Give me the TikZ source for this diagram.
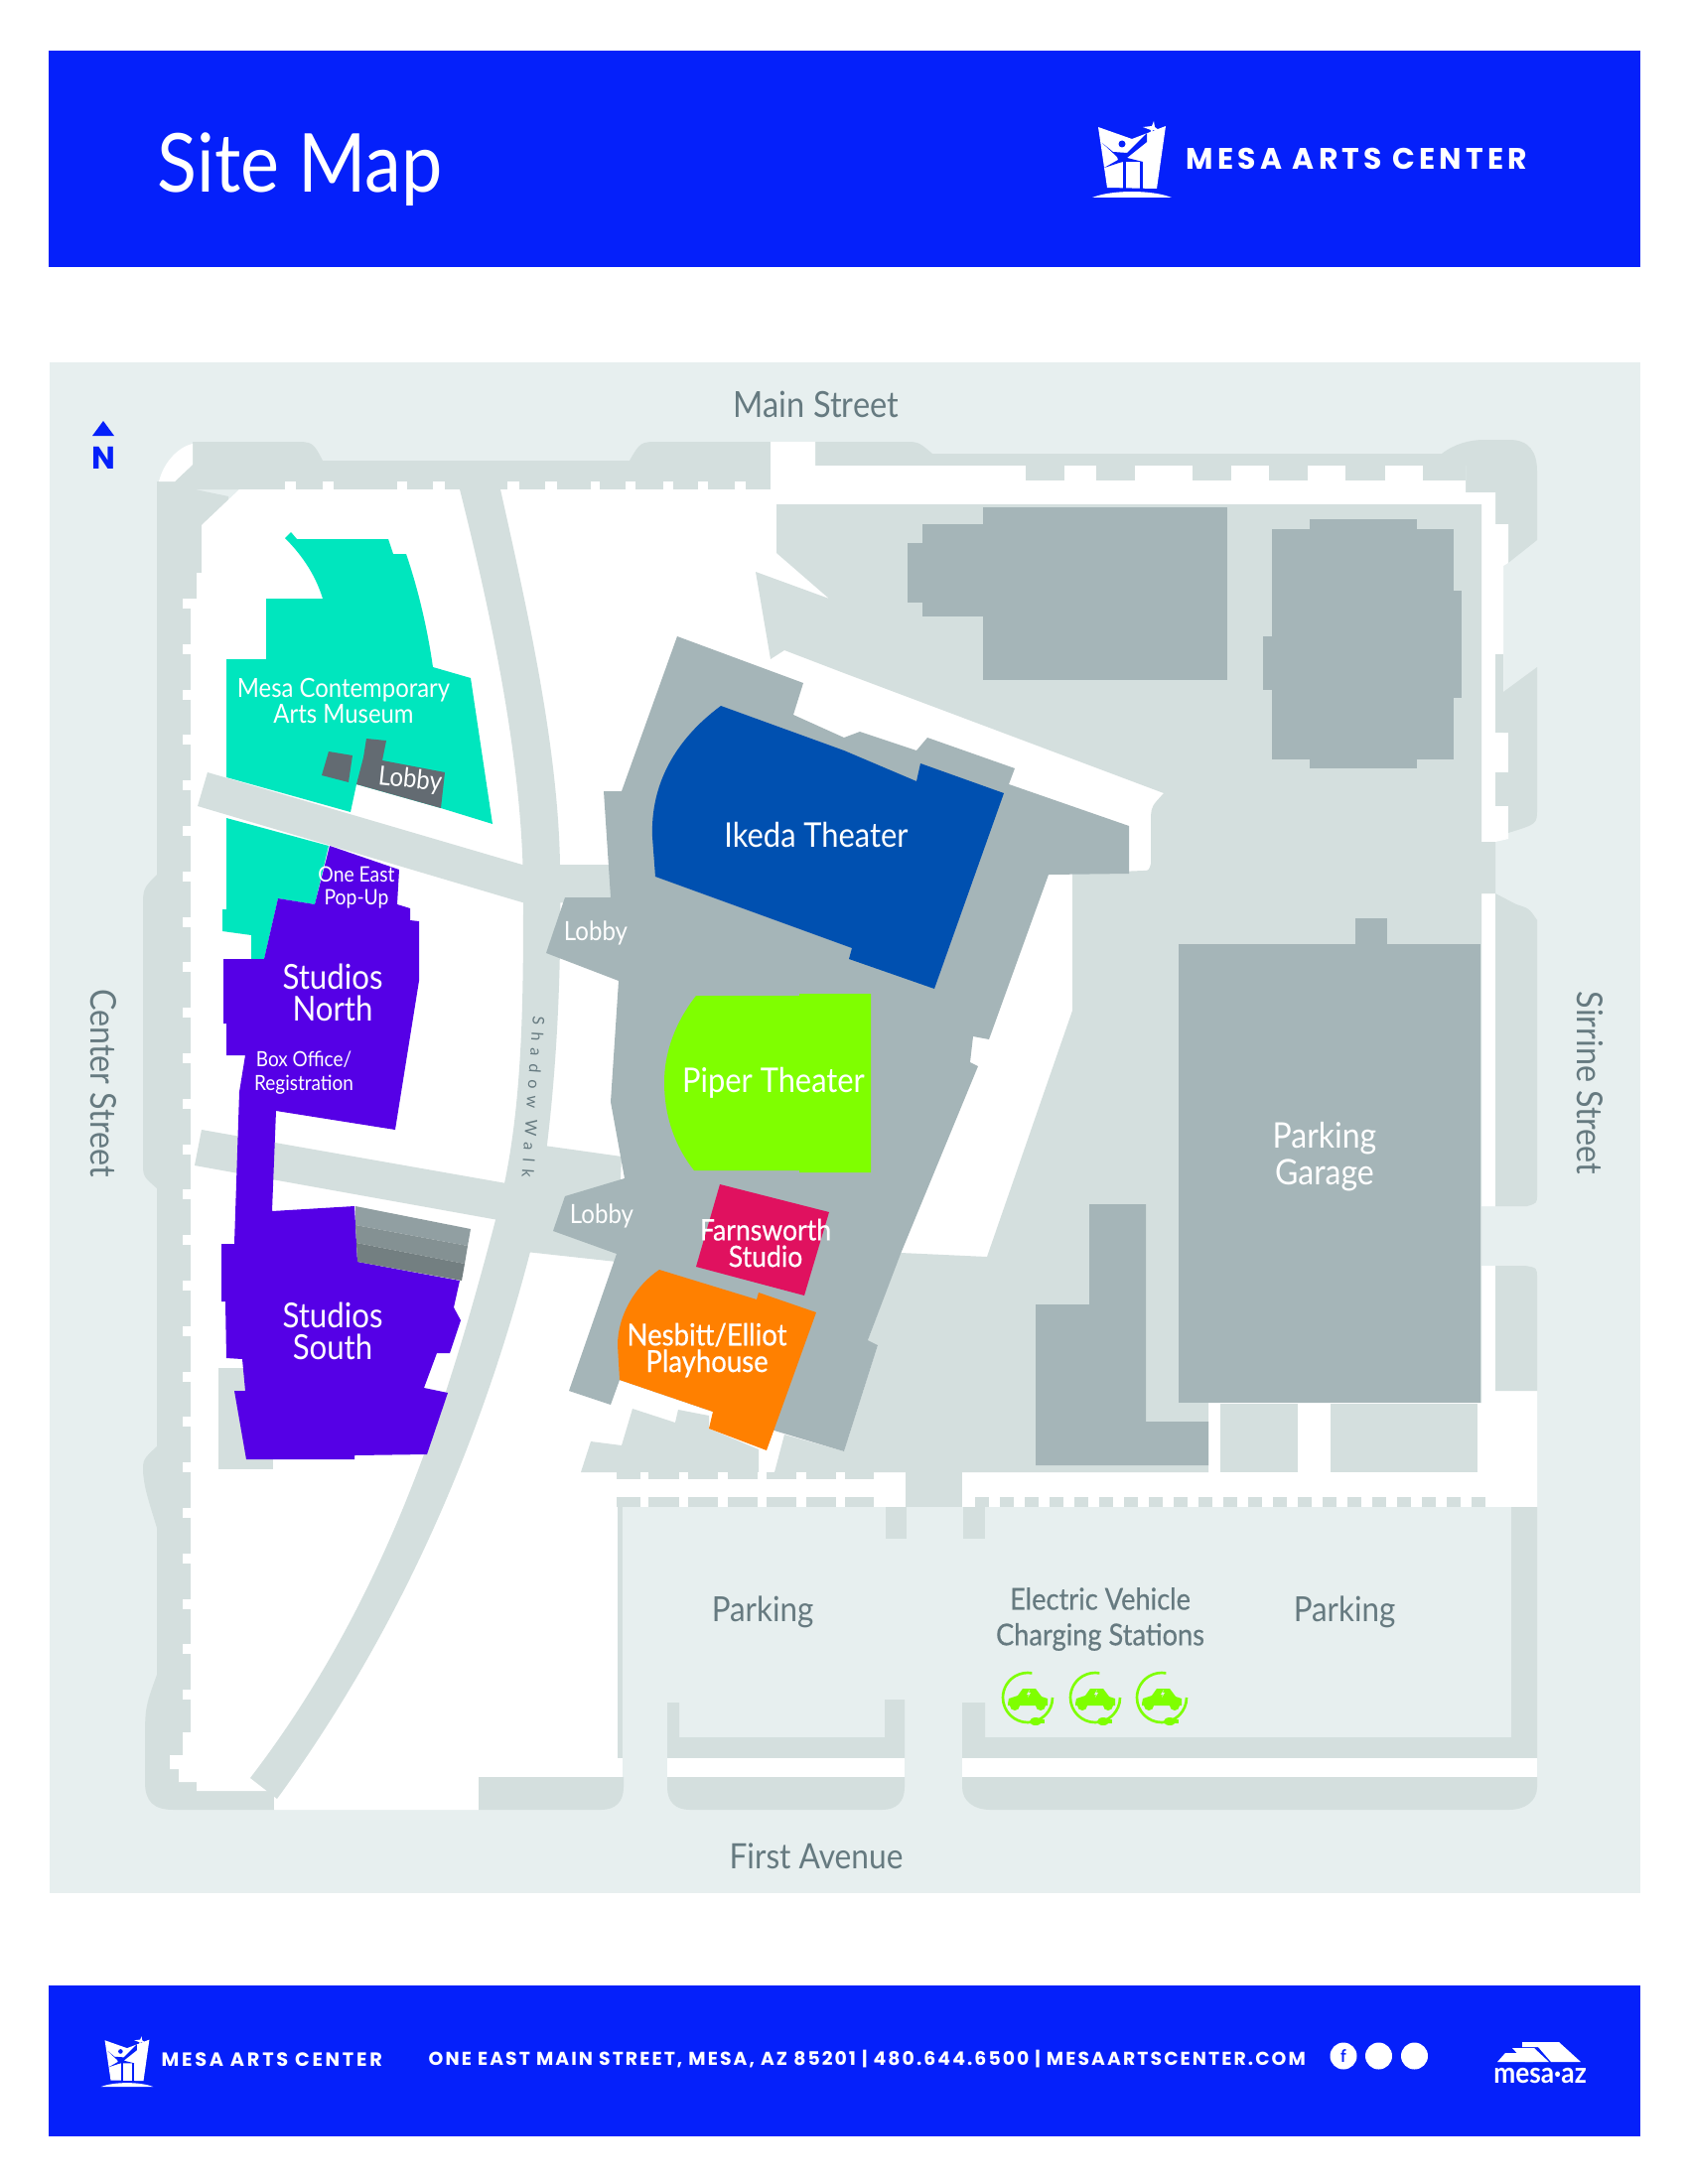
\documentclass[tikz,border=0pt]{standalone}
\usepackage{fontspec}
\setmainfont[FakeStretch=0.9]{Lato}
\newfontfamily\mediumfont[FakeStretch=0.9,FakeBold=0.5]{Lato}
\newfontfamily\logofont[LetterSpace=14]{Poppins}
\newfontfamily\footfont[LetterSpace=11]{Poppins}
\newfontfamily\walkfont[LetterSpace=45]{Lato}
\definecolor{bannerblue}{HTML}{0520FA}
\definecolor{panelgrey}{HTML}{E7EFEF}
\definecolor{walkgrey}{HTML}{D4DFDE}
\definecolor{buildgrey}{HTML}{A5B5B8}
\definecolor{textgrey}{HTML}{667A80}
\definecolor{ikedablue}{HTML}{0050B0}
\definecolor{museumgreen}{HTML}{00E6BE}
\definecolor{studiopurple}{HTML}{5500E6}
\definecolor{pipergreen}{HTML}{7FFF00}
\definecolor{farnsred}{HTML}{E0115F}
\definecolor{nesbittorange}{HTML}{FF8000}
\definecolor{lobbydark}{HTML}{636B72}
\begin{document}
\begin{tikzpicture}[x=0.01cm,y=-0.01cm,
	walk/.style={fill=walkgrey},
	building/.style={fill=buildgrey},
	toplabel/.style={white,align=center,inner sep=0pt},
	streetlabel/.style={textgrey,align=center,inner sep=0pt},
	arcslogo/.pic={
		\fill [white] (-34,-33) -- (0,-21) -- (34,-34) -- (25,29) -- (-25,28) -- cycle;
		\fill [bannerblue] (-9,2) -- (-6,2) -- (-6,29) -- (-9,29) -- cycle;
		\fill [bannerblue] (8,2) -- (11,2) -- (11,29) -- (8,29) -- cycle;
		\fill [bannerblue] (-10,-16) circle (3.5);
		\fill [bannerblue] (-30,-17) -- (-19,-8) -- (-5,-7) -- (15,-27) -- (15,-18) -- (-5,-2) -- (11,2) -- (-9,2) -- (-13,3) -- (-28,8) -- (-14,0) -- (-15,-3) -- cycle;
		\fill [white] (22,-39) -- (23,-33) -- (27,-30) -- (21,-30) -- (18,-23) -- (19,-30) -- (11,-33) -- (20,-34) -- cycle;
		\fill [white] (-40,38) .. controls (-20,30) and (20,30) .. (40,38) -- cycle;
	},
	evcharger/.pic={
		\draw [pipergreen,line width=0.75pt] (25,0) arc (0:280:25);
		\fill [pipergreen] (-20,6) -- (-19,1) -- (-10,-2) -- (-5,-9) -- (8,-9) -- (14,-1) -- (20,1) -- (20,8) -- (-20,8) -- cycle;
		\fill [pipergreen] (-13,8) circle (5);
		\fill [pipergreen] (13,8) circle (5);
		\fill [panelgrey] (2,-8) -- (-1,-3) -- (1,-3) -- (0,0) -- (3,-5) -- (1,-5) -- cycle;
		\fill [pipergreen] (8,24) ellipse (6 and 4);
		\fill [pipergreen] (8,22) rectangle (17,26);
	}]
	\useasboundingbox (0,0) rectangle (1700,2200);
	\fill [white] (0,0) rectangle (1700,2200);
	\fill [bannerblue] (49,51) rectangle (1652,269);
	\fill [bannerblue] (49,2000) rectangle (1652,2152);
	\fill [panelgrey] (50,365) rectangle (1652,1907);

	\node (sitemap) [toplabel,anchor=base west,font=\fontsize{23.3}{25}\selectfont] at (158,193) {Site Map};
	\pic at (1140,161) {arcslogo};
	\node (headername) [toplabel,anchor=west,font=\logofont\bfseries\fontsize{8.5}{10}\selectfont] at (1194,160) {MESA ARTS CENTER};
	\pic at (128,2077) [scale=0.66] {arcslogo};
	\node (footername) [toplabel,anchor=west,font=\logofont\bfseries\fontsize{5.5}{7}\selectfont] at (162,2075) {MESA ARTS CENTER};
	\node (address) [toplabel,anchor=west,font=\footfont\bfseries\fontsize{5.35}{7}\selectfont] at (431,2074) {ONE EAST MAIN STREET, MESA, AZ 85201 | 480.644.6500 | MESAARTSCENTER.COM};
	\fill [white] (1353,2071) circle (13.5);
	\fill [white] (1388.5,2071) circle (13.5);
	\fill [white] (1424.5,2071) circle (13.5);
	\node (facebook) [bannerblue,inner sep=0pt,font=\bfseries\fontsize{5}{6}\selectfont] at (1353,2071) {f};
	\fill [white] (1533,2057) -- (1570,2057) -- (1592,2077) -- (1562,2077) -- (1549,2062) -- (1533,2062) -- cycle;
	\fill [white] (1523,2063) -- (1545,2063) -- (1560,2077) -- (1536,2077) -- cycle;
	\fill [white] (1516,2068) -- (1536,2068) -- (1544,2077) -- (1508,2077) -- cycle;
	\node (mesaaz) [toplabel,font=\bfseries\fontsize{8.3}{9}\selectfont] at (1551,2091) {mesa·az};

	\fill [bannerblue] (93,439) -- (104,424) -- (115,439) -- cycle;
	\node (northmark) [bannerblue,inner sep=0pt,font=\logofont\bfseries\fontsize{9}{10}\selectfont] at (104,461) {N};

	\fill [walk] (158,485) -- (158,881) .. controls (144,895) .. (144,915) -- (144,1170) .. controls (144,1185) .. (158,1197) -- (158,1457) .. controls (144,1470) .. (144,1483) .. controls (146,1500) .. (158,1539) -- (158,1687) .. controls (146,1720) .. (146,1758) -- (146,1795) .. controls (146,1815) and (155,1823) .. (175,1823) -- (276,1823) -- (276,1790) -- (230,600) -- (230,500) -- cycle;
	\fill [walk] (158,485) -- (176,485) -- (194,468) -- (194,445) -- (295,445) .. controls (315,445) .. (325,464) -- (634,464) .. controls (645,445) .. (665,445) -- (776,445) -- (776,493) -- (158,493) -- cycle;
	\fill [white] (160,485) .. controls (165,465) and (180,450) .. (194,447) -- (194,468) -- (176,485) -- cycle;
	\fill [walk] (821,445) -- (910,445) .. controls (925,445) .. (939,457) -- (1452,457) .. controls (1465,447) and (1480,443) .. (1495,443) -- (1520,443) .. controls (1540,443) and (1548,455) .. (1548,475) -- (1548,544) -- (1519,567) -- (1476,567) -- (1476,469) -- (821,469) -- cycle;

	\fill [white] (241,493) -- (776,493) -- (776,445) -- (821,445) -- (821,469) -- (1476,469) -- (1476,496) -- (1506,496) -- (1506,528) -- (1519,528) -- (1519,567) -- (1514,570) -- (1514,738) -- (1519,738) -- (1519,845) -- (1506,848) -- (1492,848) -- (1492,900) -- (1506,900) -- (1506,1215) -- (1490,1215) -- (1490,1275) -- (1506,1275) -- (1506,1401) -- (1548,1401) -- (1548,1518) -- (622,1518) -- (622,1771) -- (628,1771) -- (628,1790) -- (482,1790) -- (482,1823) -- (276,1823) -- (276,1804) -- (198,1804) -- (198,1795) -- (180,1795) -- (180,1782) -- (171,1782) -- (171,1768) -- (184,1768) -- (184,1745) -- (192,1745) -- (192,603) -- (198,603) -- (198,577) -- (203,577) -- (203,529) -- cycle;
	\foreach \k in {0,...,24}
		\fill [white] (184,603+45.8*\k) rectangle (192,613+45.8*\k);
	\foreach \a/\b in {287/298,325/336,400/410,436/448,511/523,549/561,595/604,630/640,668/678,703/713,740/751}
		\fill [white] (\a,485) rectangle (\b,493);
	\foreach \a/\b in {1033/1072,1104/1143,1201/1240,1278/1317,1355/1395,1433/1476}
		\fill [walk] (\a,469) rectangle (\b,484);

	\fill [walk] (1506,659) rectangle (1514,738);
	\fill [walk] (1514,697) -- (1548,672) -- (1548,815) .. controls (1548,830) .. (1519,839) -- (1519,738) -- (1514,738) -- cycle;
	\fill [walk] (1506,778) rectangle (1519,812);
	\fill [walk] (1506,900) -- (1527,911) .. controls (1540,915) .. (1548,927) -- (1548,1203) .. controls (1548,1212) .. (1538,1215) -- (1506,1215) -- cycle;
	\fill [walk] (1506,1275) -- (1536,1275) .. controls (1548,1277) .. (1548,1288) -- (1548,1401) -- (1506,1401) -- cycle;

	\fill [panelgrey] (627,1518) rectangle (1522,1750);
	\fill [walk] (622,1518) rectangle (627,1771);
	\fill [panelgrey] (627,1750) rectangle (672,1823);
	\fill [panelgrey] (911,1750) rectangle (969,1823);
	\fill [walk] (672,1715) -- (684,1715) -- (684,1750) -- (891,1750) -- (891,1712) -- (911,1712) -- (911,1771) -- (672,1771) -- cycle;
	\fill [walk] (969,1715) -- (992,1715) -- (992,1750) -- (1522,1750) -- (1522,1518) -- (1548,1518) -- (1548,1771) -- (969,1771) -- cycle;
	\fill [walk] (892,1518) rectangle (913,1550);
	\fill [walk] (970,1518) rectangle (992,1550);
	\fill [white] (672,1771) rectangle (911,1790);
	\fill [white] (969,1771) rectangle (1548,1790);
	\fill [walk] (482,1790) -- (628,1790) -- (628,1800) .. controls (628,1815) and (620,1823) .. (605,1823) -- (482,1823) -- cycle;
	\fill [walk] (672,1790) -- (911,1790) -- (911,1800) .. controls (911,1815) and (903,1823) .. (888,1823) -- (695,1823) .. controls (680,1823) and (672,1815) .. (672,1800) -- cycle;
	\fill [walk] (969,1790) -- (1548,1790) -- (1548,1800) .. controls (1548,1815) and (1535,1823) .. (1520,1823) -- (997,1823) .. controls (982,1823) and (969,1815) .. (969,1800) -- cycle;

	\fill [walk] (782,508) -- (1492,508) -- (1492,848) -- (1506,848) -- (1506,900) -- (1492,900) -- (1492,1413) -- (1217,1413) -- (1217,1483) -- (780,1483) -- (790,1445) -- (850,1462) -- (884,1355) -- (874,1350) -- (907,1262) -- (994,1266) -- (1080,1018) -- (1080,880) -- (1151,877) .. controls (1157,877) .. (1159,870) -- (1159,822) .. controls (1160,812) .. (1172,799) -- (850,678) -- (790,655) -- (776,664) -- (761,576) -- (835,603) -- (782,557) -- cycle;
	\fill [walk] (637,1419) -- (680,1433) -- (683,1420) -- (714,1426) -- (714,1439) -- (764,1460) -- (764,1483) -- (585,1483) -- (595,1452) -- (626,1456) -- cycle;
	\fill [walk] (1229,1414) rectangle (1307,1483);
	\fill [walk] (1340,1414) rectangle (1488,1483);
	\fill [walk] (912,1483) rectangle (969,1518);
	\fill [walk] (621,1483) rectangle (880,1490);
	\fill [walk] (621,1508) rectangle (880,1518);
	\foreach \a/\b in {645/653,684/693,723/733,763/772,802/812,842/851} {
		\fill [white] (\a,1483) rectangle (\b,1490);
		\fill [white] (\a,1508) rectangle (\b,1518);
	}
	\foreach \k in {0,...,20}
		\fill [walk] (982+25*\k,1508) rectangle (996+25*\k,1518);

	\fill [walk] (463,493) .. controls (500,640) and (527,780) .. (527,900) .. controls (527,1010) and (527,1130) .. (499,1229) .. controls (452,1409) and (390,1611) .. (252,1791) -- (279,1812) .. controls (410,1632) and (487,1441) .. (534,1261) .. controls (560,1130) and (566,990) .. (564,871) .. controls (562,750) and (530,610) .. (504,493) -- cycle;
	\fill [walk] (209,778) -- (526,871) -- (615,871) -- (615,910) -- (526,909) -- (199,812) -- cycle;
	\fill [walk] (203,1138) -- (510,1192) -- (502,1229) -- (196,1174) -- cycle;
	\fill [walk] (548,1154) -- (626,1165) -- (621,1271) -- (530,1261) -- cycle;
	\fill [walk] (220,1378) rectangle (275,1480);

	\fill [building] (914,547) rectangle (929,607);
	\fill [building] (929,528) rectangle (990,621);
	\fill [building] (990,511) rectangle (1236,685);
	\fill [building] (1281,533) rectangle (1464,765);
	\fill [building] (1319,523) rectangle (1427,774);
	\fill [building] (1272,641) rectangle (1281,695);
	\fill [building] (1464,595) rectangle (1472,703);
	\fill [building] (1187,951) rectangle (1491,1413);
	\fill [building] (1365,925) rectangle (1397,951);
	\fill [building] (1097,1213) -- (1154,1213) -- (1154,1432) -- (1217,1432) -- (1217,1476) -- (1043,1476) -- (1043,1314) -- (1097,1314) -- cycle;
	\fill [building] (682,641) -- (809,688) -- (799,720) -- (850,743) -- (866,737) -- (923,756) -- (934,743) -- (1022,774) -- (1016,790) -- (1137,832) -- (1137,880) -- (1056,881) -- (996,1047) -- (980,1044) -- (977,1070) -- (985,1074) -- (907,1263) -- (874,1350) -- (884,1355) -- (850,1462) -- (783,1442) -- (718,1422) -- (624,1390) -- (615,1415) -- (573,1401) -- (621,1263) -- (557,1240) -- (569,1205) -- (629,1187) -- (615,1110) -- (623,988) -- (550,960) -- (569,904) -- (615,904) -- (608,797) -- (626,797) -- cycle;

	\fill [ikedablue] (726,711) -- (850,756) -- (923,787) -- (927,769) -- (1011,799) -- (941,996) -- (855,966) -- (858,955) -- (660,883) -- (657,843) .. controls (655,790) and (680,745) .. (726,711) -- cycle;
	\fill [pipergreen] (701,1003) .. controls (680,1030) and (669,1060) .. (669,1090) .. controls (669,1125) and (680,1155) .. (699,1179) -- (805,1179) -- (805,1181) -- (877,1181) -- (877,1001) -- (805,1001) -- (805,1003) -- cycle;
	\fill [farnsred] (725,1193) -- (835,1221) -- (810,1305) -- (701,1276) -- cycle;
	\fill [nesbittorange] (664,1279) -- (762,1309) -- (764,1302) -- (822,1322) -- (772,1461) -- (714,1439) -- (718,1422) -- (624,1390) -- (622,1355) .. controls (622,1325) and (640,1295) .. (664,1279) -- cycle;

	\fill [museumgreen] (287,542) -- (293,536) -- (299,543) -- (391,543) -- (396,558) -- (409,558) .. controls (420,590) and (430,630) .. (436,672) -- (474,683) -- (496,830) -- (444,814) -- (359,790) -- (353,818) -- (228,783) -- (228,664) -- (268,664) -- (268,603) -- (325,603) .. controls (318,580) and (305,560) .. (287,542) -- cycle;
	\fill [museumgreen] (228,824) -- (331,852) -- (317,911) -- (280,905) -- (266,966) -- (253,966) -- (253,942) -- (224,938) -- (224,916) -- (228,916) -- cycle;
	\fill [lobbydark] (369,744) -- (389,746) -- (385,766) -- (448,778) -- (444,814) -- (359,790) -- (366,763) -- cycle;
	\fill [lobbydark] (331,757) -- (355,761) -- (351,788) -- (324,781) -- cycle;

	\fill [studiopurple] (332,852) -- (402,876) -- (400,911) -- (413,915) -- (413,927) -- (422,928) -- (422,988) -- (398,1138) -- (278,1119) -- (274,1220) -- (357,1215) -- (360,1271) -- (463,1290) -- (457,1317) -- (464,1330) -- (453,1363) -- (440,1363) -- (427,1398) -- (451,1403) -- (430,1465) -- (357,1466) -- (357,1470) -- (248,1470) -- (236,1401) -- (247,1401) -- (244,1369) -- (228,1368) -- (227,1311) -- (223,1311) -- (223,1253) -- (236,1253) -- (241,1100) -- (247,1063) -- (228,1063) -- (228,1031) -- (225,1031) -- (225,966) -- (266,966) -- (280,905) -- (317,911) -- cycle;
	\fill [fill=buildgrey!88!black] (358,1215) -- (474,1238) -- (471,1255) -- (358,1234) -- cycle;
	\fill [fill=buildgrey!80!black] (358,1234) -- (471,1255) -- (468,1273) -- (359,1252) -- cycle;
	\fill [fill=buildgrey!70!black] (359,1252) -- (468,1273) -- (465,1290) -- (360,1271) -- cycle;

	\node (mainstreet) [streetlabel,font=\fontsize{10.3}{11}\selectfont] at (822,407) {Main Street};
	\node (firstavenue) [streetlabel,font=\fontsize{10}{11}\selectfont] at (822,1870) {First Avenue};
	\node (centerstreet) [streetlabel,rotate=-90,font=\fontsize{10.2}{11}\selectfont] at (104,1091) {Center Street};
	\node (sirrinestreet) [streetlabel,rotate=-90,font=\fontsize{10.2}{11}\selectfont] at (1601,1091) {Sirrine Street};
	\node (shadowwalk) [streetlabel,rotate=-94,font=\walkfont\fontsize{4.6}{6}\selectfont] at (537,1105) {Shadow Walk};

	\node (museum) [toplabel,font=\fontsize{7.55}{7.4}\selectfont] at (346,706) {Mesa Contemporary\\Arts Museum};
	\node (museumlobby) [toplabel,rotate=-6,font=\fontsize{7.6}{9}\selectfont] at (413,786) {Lobby};
	\node (popup) [toplabel,font=\fontsize{6.1}{6.5}\selectfont] at (359,894) {One East\\Pop-Up};
	\node (studiosnorth) [toplabel,font=\fontsize{9.85}{9.2}\selectfont] at (335,1000) {Studios\\North};
	\node (boxoffice) [toplabel,font=\fontsize{6}{6.8}\selectfont] at (306,1081) {Box Office/\\Registration};
	\node (studiossouth) [toplabel,font=\fontsize{9.85}{9.2}\selectfont] at (335,1341) {Studios\\South};
	\node (ikeda) [toplabel,font=\fontsize{9.75}{11}\selectfont] at (822,841) {Ikeda Theater};
	\node (piper) [toplabel,font=\fontsize{9.75}{11}\selectfont] at (779,1091) {Piper Theater};
	\node (upperlobby) [toplabel,font=\fontsize{7.6}{9}\selectfont] at (600,940) {Lobby};
	\node (lowerlobby) [toplabel,font=\fontsize{7.6}{9}\selectfont] at (606,1225) {Lobby};
	\node (farnsworth) [toplabel,font=\mediumfont\fontsize{8.4}{7.6}\selectfont] at (771,1252) {Farnsworth\\Studio};
	\node (nesbitt) [toplabel,font=\mediumfont\fontsize{8.7}{7.6}\selectfont] at (712,1360) {Nesbitt/Elliot\\Playhouse};
	\node (garage) [toplabel,font=\fontsize{10.1}{10.5}\selectfont] at (1334,1165) {Parking\\Garage};
	\node (parkingwest) [streetlabel,font=\fontsize{9.9}{11}\selectfont] at (768,1624) {Parking};
	\node (parkingeast) [streetlabel,font=\fontsize{9.9}{11}\selectfont] at (1354,1624) {Parking};
	\node (evlabel) [streetlabel,font=\mediumfont\fontsize{8.6}{10.2}\selectfont] at (1108,1631) {Electric Vehicle\\Charging Stations};
	\foreach \a in {1035,1103,1170}
		\pic at (\a,1710) {evcharger};
\end{tikzpicture}
\end{document}
